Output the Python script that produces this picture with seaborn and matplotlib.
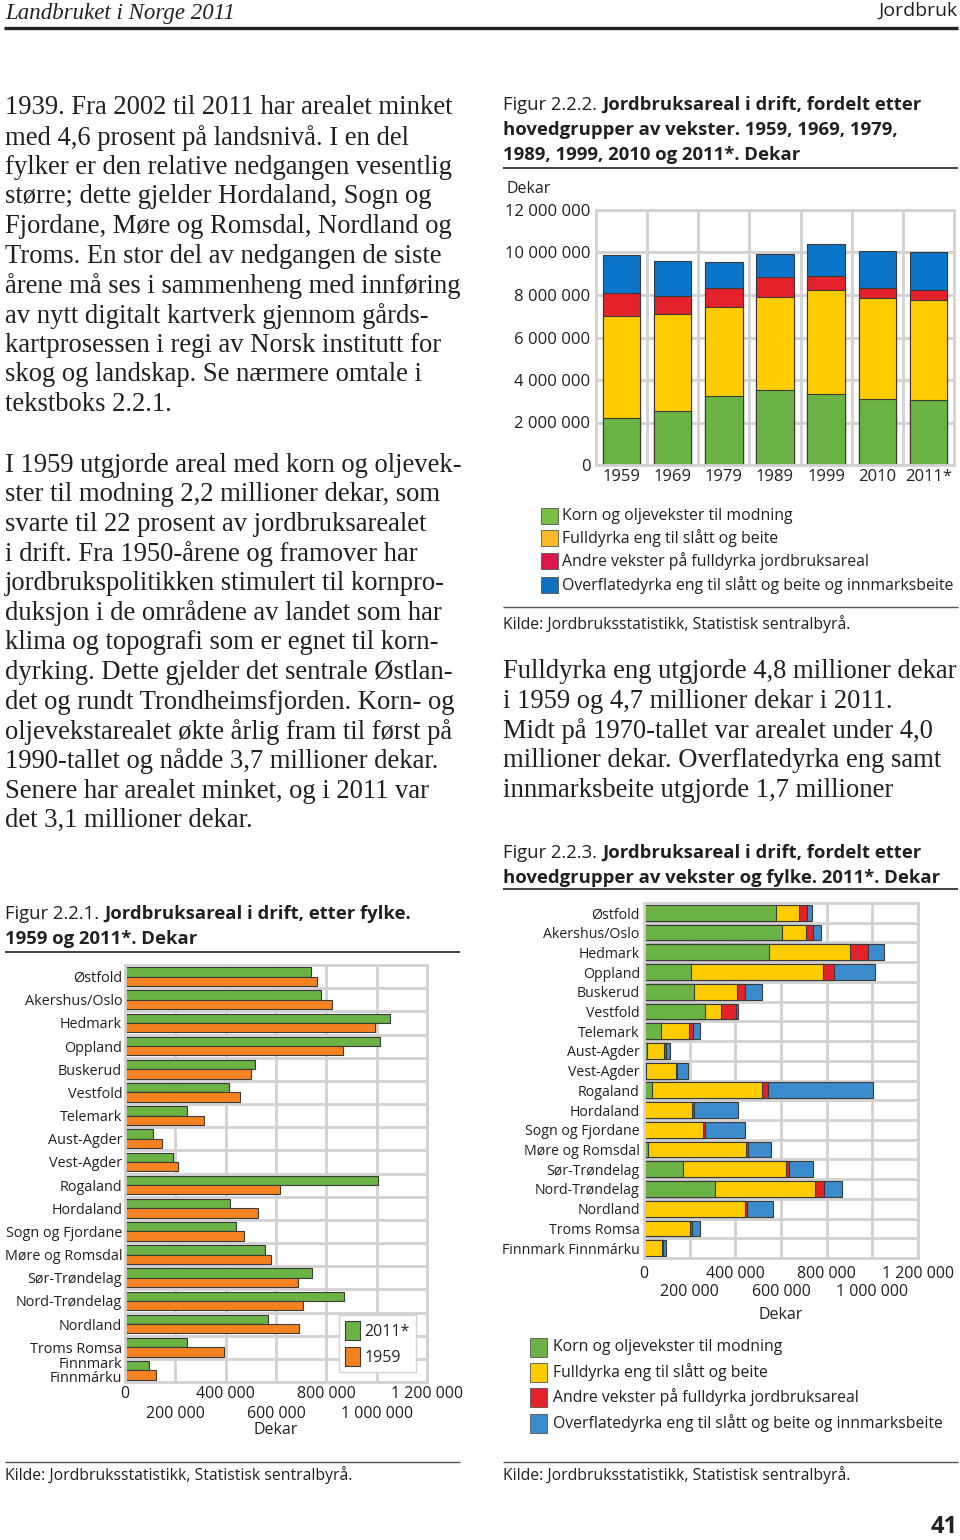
import numpy as np
import pandas as pd
import matplotlib
matplotlib.use('Agg')
import matplotlib.pyplot as plt
from matplotlib.patches import Rectangle
import seaborn as sns

# ── DATA ─────────────────────────────────────────────────────────────────────
# Figur 2.2.2: hovedgrupper av vekster, hele landet (dekar)
aar = ['1959', '1969', '1979', '1989', '1999', '2010', '2011*']
korn = [2200000, 2530000, 3250000, 3530000, 3340000, 3090000, 3060000]
fulldyrka = [4800000, 4580000, 4170000, 4390000, 4900000, 4750000, 4720000]
andre = [1100000, 860000, 910000, 910000, 650000, 470000, 440000]
overflate = [1760000, 1610000, 1220000, 1100000, 1530000, 1780000, 1790000]

# Figur 2.2.1: jordbruksareal etter fylke (dekar)
fylker = ['Østfold', 'Akershus/Oslo', 'Hedmark', 'Oppland', 'Buskerud', 'Vestfold',
          'Telemark', 'Aust-Agder', 'Vest-Agder', 'Rogaland', 'Hordaland',
          'Sogn og Fjordane', 'Møre og Romsdal', 'Sør-Trøndelag', 'Nord-Trøndelag',
          'Nordland', 'Troms Romsa', 'Finnmark Finnmárku']
fylke_labels_221 = fylker[:-1] + ['Finnmark\nFinnmárku']
areal_2011 = [739000, 779000, 1052000, 1012000, 515000, 413000, 248000, 111000, 189000,
              1004000, 416000, 442000, 556000, 742000, 869000, 567000, 246000, 95000]
areal_1959 = [764000, 821000, 992000, 865000, 499000, 456000, 315000, 148000, 212000,
              615000, 527000, 472000, 579000, 686000, 709000, 691000, 392000, 122000]

# Figur 2.2.3: hovedgrupper av vekster etter fylke, 2011* (dekar)
f_korn = [579000, 604000, 547000, 204000, 221000, 265000, 73000, 12000, 10000,
          33000, 2000, 2000, 19000, 172000, 312000, 6000, 1000, 1000]
f_fulldyrka = [98000, 106000, 355000, 582000, 187000, 71000, 124000, 77000, 131000,
               484000, 208000, 256000, 428000, 451000, 439000, 435000, 201000, 79000]
f_andre = [36000, 29000, 79000, 48000, 35000, 69000, 18000, 9000, 2000,
           26000, 8000, 10000, 10000, 12000, 37000, 9000, 8000, 3000]
f_overflate = [24000, 37000, 68000, 178000, 72000, 8000, 32000, 14000, 48000,
               458000, 195000, 174000, 99000, 104000, 80000, 116000, 37000, 13000]

serier = ['Korn og oljevekster til modning',
          'Fulldyrka eng til slått og beite',
          'Andre vekster på fulldyrka jordbruksareal',
          'Overflatedyrka eng til slått og beite og innmarksbeite']

# ── STIL ─────────────────────────────────────────────────────────────────────
sns.set_theme(style='white')
plt.rcParams['font.family'] = ['Open Sans', 'DejaVu Sans']
GRONN = '#6ab344'; GUL = '#ffcc00'; ROD = '#e3222b'; BLA = '#0b75c9'
BLA3 = '#3a8ccc'; ORANSJE = '#f58220'
GRID = '#d2d2d2'; KANT = '#3a3a3a'; TEKST = '#231f20'
SERIF = ['Liberation Serif', 'DejaVu Serif']
BRODSTR = 19.2
CAPSTR = 13.3

fig = plt.figure(figsize=(9.6, 15.4), dpi=100)
bg = fig.add_axes([0, 0, 1, 1])
bg.set_xlim(0, 960); bg.set_ylim(1540, 0); bg.axis('off')


def ax_px(x0, y0, x1, y1):
    return fig.add_axes([x0 / 960, 1 - y1 / 1540, (x1 - x0) / 960, (y1 - y0) / 1540])


def hline(x0, x1, y, lw=1.0, color='#333333'):
    bg.plot([x0, x1], [y, y], color=color, lw=lw, solid_capstyle='butt')


def fmt(v):
    return f'{v:,.0f}'.replace(',', ' ')


def caption(x, y, normal, bold1, bold2=None, size=CAPSTR):
    t = bg.text(x, y, normal, fontsize=size, color=TEKST, va='baseline')
    bg.annotate(bold1, xy=(1, 0), xycoords=t, xytext=(4, 0), textcoords='offset points',
                va='bottom', ha='left', fontsize=size, fontweight='bold', color=TEKST)
    if bold2:
        bg.text(x, y + 25, bold2, fontsize=size, fontweight='bold', color=TEKST, va='baseline')


def stil_akse(ax):
    ax.set_axisbelow(True)
    for sp in ax.spines.values():
        sp.set_edgecolor(GRID); sp.set_linewidth(2)
    ax.tick_params(which='both', length=0, colors=TEKST)


xt = np.arange(0, 1.2e6 + 1, 2e5)


def forskjovet_x(ax, pad1, pad2):
    # annenhver verdi på en lavere rad
    ax.set_xticks(xt[::2], [fmt(v) for v in xt[::2]])
    ax.set_xticks(xt[1::2], [fmt(v) for v in xt[1::2]], minor=True)
    ax.tick_params(axis='x', which='both', length=0, labelsize=11.5, colors=TEKST)
    ax.tick_params(axis='x', which='major', pad=pad1)
    ax.tick_params(axis='x', which='minor', pad=pad2)
    ax.grid(which='both', axis='x', color=GRID, lw=2)

# ── TOPPTEKST ────────────────────────────────────────────────────────────────
bg.text(5, 13, 'Landbruket i Norge 2011', family=SERIF, style='italic', fontsize=16.5,
        color=TEKST, va='center')
bg.text(958, 11, 'Jordbruk', fontsize=14, color=TEKST, va='center', ha='right')
hline(4, 958, 28, lw=2.4, color='#222222')

# ── BRØDTEKST ────────────────────────────────────────────────────────────────
avsnitt1 = ['1939. Fra 2002 til 2011 har arealet minket',
            'med 4,6 prosent på landsnivå. I en del',
            'fylker er den relative nedgangen vesentlig',
            'større; dette gjelder Hordaland, Sogn og',
            'Fjordane, Møre og Romsdal, Nordland og',
            'Troms. En stor del av nedgangen de siste',
            'årene må ses i sammenheng med innføring',
            'av nytt digitalt kartverk gjennom gårds-',
            'kartprosessen i regi av Norsk institutt for',
            'skog og landskap. Se nærmere omtale i',
            'tekstboks 2.2.1.']
avsnitt2 = ['I 1959 utgjorde areal med korn og oljevek-',
            'ster til modning 2,2 millioner dekar, som',
            'svarte til 22 prosent av jordbruksarealet',
            'i drift. Fra 1950-årene og framover har',
            'jordbrukspolitikken stimulert til kornpro-',
            'duksjon i de områdene av landet som har',
            'klima og topografi som er egnet til korn-',
            'dyrking. Dette gjelder det sentrale Østlan-',
            'det og rundt Trondheimsfjorden. Korn- og',
            'oljevekstarealet økte årlig fram til først på',
            '1990-tallet og nådde 3,7 millioner dekar.',
            'Senere har arealet minket, og i 2011 var',
            'det 3,1 millioner dekar.']
avsnitt3 = ['Fulldyrka eng utgjorde 4,8 millioner dekar',
            'i 1959 og 4,7 millioner dekar i 2011.',
            'Midt på 1970-tallet var arealet under 4,0',
            'millioner dekar. Overflatedyrka eng samt',
            'innmarksbeite utgjorde 1,7 millioner']
LS = 29.65
for i, linje in enumerate(avsnitt1):
    bg.text(5, 108 + i * LS, linje, family=SERIF, fontsize=BRODSTR, color=TEKST, va='center')
for i, linje in enumerate(avsnitt2):
    bg.text(5, 465 + i * LS, linje, family=SERIF, fontsize=BRODSTR, color=TEKST, va='center')
for i, linje in enumerate(avsnitt3):
    bg.text(503, 672 + i * LS, linje, family=SERIF, fontsize=BRODSTR, color=TEKST, va='center')

# ── FIGUR 2.2.2 ──────────────────────────────────────────────────────────────
caption(503, 110, 'Figur 2.2.2.', 'Jordbruksareal i drift, fordelt etter',
        'hovedgrupper av vekster. 1959, 1969, 1979,')
bg.text(503, 160, '1989, 1999, 2010 og 2011*. Dekar', fontsize=CAPSTR, fontweight='bold',
        color=TEKST, va='baseline')
hline(503, 958, 168, lw=1.3)
bg.text(506, 189, 'Dekar', fontsize=11.5, color=TEKST, va='center')

df1 = pd.DataFrame({'aar': aar, 'korn': korn, 'fulldyrka': fulldyrka,
                    'andre': andre, 'overflate': overflate})
df1['l1'] = df1['korn']
df1['l2'] = df1['l1'] + df1['fulldyrka']
df1['l3'] = df1['l2'] + df1['andre']
df1['l4'] = df1['l3'] + df1['overflate']

ax1 = ax_px(596, 210, 954, 465)
for col, farge in [('l4', BLA), ('l3', ROD), ('l2', GUL), ('l1', GRONN)]:
    sns.barplot(data=df1, x='aar', y=col, color=farge, saturation=1, width=0.73,
                edgecolor=KANT, linewidth=0.8, ax=ax1)
ax1.set_ylim(0, 12e6); ax1.set_xlim(-0.5, 6.5)
ax1.set_yticks(np.arange(0, 12e6 + 1, 2e6))
ax1.set_yticklabels([fmt(v) for v in np.arange(0, 12e6 + 1, 2e6)])
ax1.set_xticks(np.arange(0.5, 6), minor=True)
ax1.grid(which='major', axis='y', color=GRID, lw=2)
ax1.grid(which='minor', axis='x', color=GRID, lw=2)
ax1.grid(which='major', axis='x', visible=False)
ax1.set_xlabel(''); ax1.set_ylabel('')
stil_akse(ax1)
ax1.tick_params(axis='y', labelsize=12, pad=4)
ax1.tick_params(axis='x', labelsize=12, pad=3)

legend1 = ['#77c043', '#fbb829', '#d9174b', '#1070c0']
for i, (farge, navn) in enumerate(zip(legend1, serier)):
    y = [516, 538, 561, 585][i]
    bg.add_patch(Rectangle((541, y - 8), 17, 16, facecolor=farge, edgecolor='#555555', lw=0.6))
    bg.text(562, y, navn, fontsize=11.4, color=TEKST, va='center')
hline(503, 958, 607, lw=1.0, color='#555555')
bg.text(503, 624, 'Kilde: Jordbruksstatistikk, Statistisk sentralbyrå.', fontsize=11.3,
        color=TEKST, va='center')

# ── FIGUR 2.2.1 ──────────────────────────────────────────────────────────────
caption(5, 919, 'Figur 2.2.1.', 'Jordbruksareal i drift, etter fylke.', '1959 og 2011*. Dekar')
hline(5, 460, 952, lw=1.3)

df2 = pd.DataFrame({'fylke': fylker * 2,
                    'areal': areal_2011 + areal_1959,
                    'aar': ['2011*'] * len(fylker) + ['1959'] * len(fylker)})
ax2 = ax_px(125, 965, 427, 1382)
sns.barplot(data=df2, y='fylke', x='areal', hue='aar', hue_order=['2011*', '1959'],
            palette=[GRONN, ORANSJE], saturation=1, orient='h', width=0.8,
            edgecolor=KANT, linewidth=0.8, ax=ax2)
ax2.set_xlim(0, 1.2e6); ax2.set_ylim(len(fylker) - 0.5, -0.5)
ax2.set_yticks(range(len(fylker)))
ax2.set_yticklabels(fylke_labels_221, linespacing=0.85)
ax2.set_yticks(np.arange(0.5, len(fylker) - 1), minor=True)
ax2.grid(which='minor', axis='y', color=GRID, lw=2)
ax2.grid(which='major', axis='y', visible=False)
ax2.set_ylabel('')
stil_akse(ax2)
forskjovet_x(ax2, 3, 17)
ax2.set_xlabel('Dekar', fontsize=11.5, labelpad=0, color=TEKST)
ax2.tick_params(axis='y', labelsize=10.4, pad=2)
ax2.legend(loc='upper left', bbox_to_anchor=((339 - 125) / 302, 1 - (1315 - 965) / 417),
           frameon=True, fancybox=False, framealpha=1, edgecolor=GRID, fontsize=11.5,
           handlelength=0.9, handleheight=1.4, handletextpad=0.3, labelspacing=0.45,
           borderpad=0.4, borderaxespad=0)

hline(5, 460, 1462, lw=1.0, color='#555555')
bg.text(5, 1475, 'Kilde: Jordbruksstatistikk, Statistisk sentralbyrå.', fontsize=11.3,
        color=TEKST, va='center')

# ── FIGUR 2.2.3 ──────────────────────────────────────────────────────────────
caption(503, 858, 'Figur 2.2.3.', 'Jordbruksareal i drift, fordelt etter',
        'hovedgrupper av vekster og fylke. 2011*. Dekar')
hline(503, 958, 889, lw=1.3)

df3 = pd.DataFrame({'fylke': fylker, 'korn': f_korn, 'fulldyrka': f_fulldyrka,
                    'andre': f_andre, 'overflate': f_overflate})
df3['l1'] = df3['korn']
df3['l2'] = df3['l1'] + df3['fulldyrka']
df3['l3'] = df3['l2'] + df3['andre']
df3['l4'] = df3['l3'] + df3['overflate']

ax3 = ax_px(644, 903, 918, 1258)
for col, farge in [('l4', BLA3), ('l3', ROD), ('l2', GUL), ('l1', GRONN)]:
    sns.barplot(data=df3, y='fylke', x=col, color=farge, saturation=1, orient='h',
                width=0.8, edgecolor=KANT, linewidth=0.8, ax=ax3)
ax3.set_xlim(0, 1.2e6); ax3.set_ylim(len(fylker) - 0.5, -0.5)
ax3.set_yticks(np.arange(0.5, len(fylker) - 1), minor=True)
ax3.grid(which='minor', axis='y', color=GRID, lw=2)
ax3.grid(which='major', axis='y', visible=False)
ax3.set_ylabel('')
stil_akse(ax3)
forskjovet_x(ax3, 5.5, 19)
ax3.set_xlabel('Dekar', fontsize=11.5, labelpad=5, color=TEKST)
ax3.tick_params(axis='y', labelsize=10.2, pad=3)

legend3 = [GRONN, GUL, ROD, BLA3]
for i, (farge, navn) in enumerate(zip(legend3, serier)):
    y = [1347, 1372, 1397, 1423][i]
    bg.add_patch(Rectangle((530, y - 9.5), 17, 19, facecolor=farge, edgecolor='#555555', lw=0.6))
    bg.text(553, y, navn, fontsize=11.3, color=TEKST, va='center')
hline(503, 958, 1462, lw=1.0, color='#555555')
bg.text(503, 1475, 'Kilde: Jordbruksstatistikk, Statistisk sentralbyrå.', fontsize=11.3,
        color=TEKST, va='center')

bg.text(958, 1527, '41', fontsize=17, fontweight='bold', color=TEKST, ha='right', va='center')

fig.savefig('out.png', dpi=100)
